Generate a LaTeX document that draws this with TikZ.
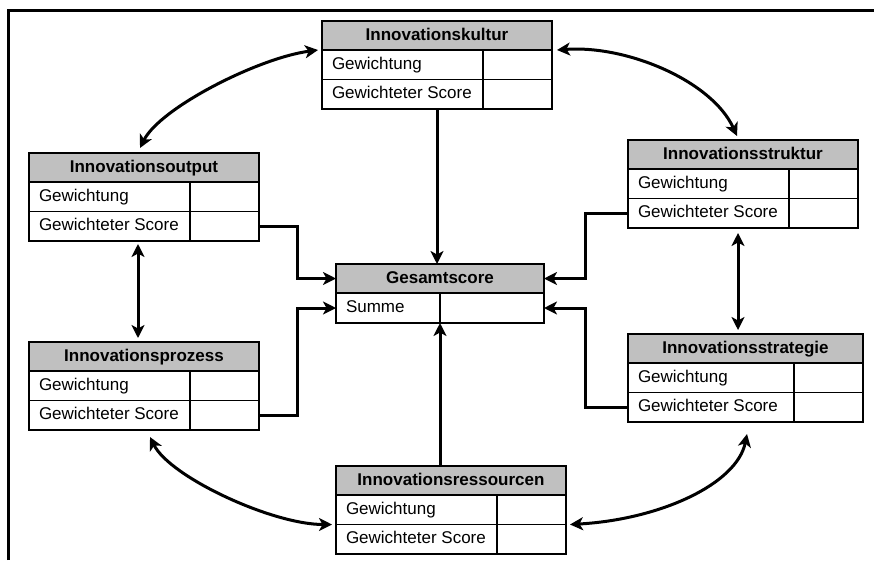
\documentclass[tikz,border=0pt]{standalone}
\usepackage{fontspec}
\setmainfont{Liberation Sans}
\usetikzlibrary{arrows.meta,fit}
\definecolor{hdrgray}{HTML}{C0C0C0}

\tikzset{
  cellbase/.style={draw=black, line width=1.4pt, inner ysep=0pt, outer sep=0pt,
    text height=12.5pt, text depth=3.5pt, font=\fontsize{17}{20}\selectfont},
  hdrcell/.style={cellbase, fill=hdrgray, minimum height=29, inner xsep=0pt,
    font=\fontsize{17}{20}\selectfont\bfseries},
  labcell/.style={cellbase, fill=white, minimum height=29.5, inner xsep=10pt},
  valcell/.style={cellbase, fill=white, minimum height=29.5, inner xsep=0pt},
  conn/.style={line width=3pt},
  >={Stealth[length=13pt,width=13pt,inset=3.5pt]},
}

% score table: name, left, top, total width, label column width, title
\newcommand\scorebox[6]{%
  \pgfmathsetlengthmacro\sbtw{#5-20}%
  \pgfmathsetlengthmacro\sbvw{#4-#5}%
  \node[hdrcell, minimum width=#4, anchor=north west] (#1-h) at (#2,#3) {#6};
  \node[labcell, anchor=north west] (#1-g) at (#1-h.south west)
    {\makebox[\sbtw][l]{Gewichtung}};
  \node[valcell, minimum width=\sbvw, anchor=north west] (#1-gv) at (#1-g.north east) {};
  \node[labcell, anchor=north west] (#1-s) at (#1-g.south west)
    {\makebox[\sbtw][l]{Gewichteter Score}};
  \node[valcell, minimum width=\sbvw, anchor=north west] (#1-sv) at (#1-s.north east) {};
  \node[fit=(#1-h)(#1-sv), inner sep=0pt, outer sep=0pt] (#1) {};
}

\begin{document}
\begin{tikzpicture}[x=1pt,y=-1pt]
  \fill[white] (0,0) rectangle (874,560);
  \useasboundingbox (0,0) rectangle (874,560);

  % outer frame
  \draw[line width=3pt] (8,560) -- (8,10) -- (874,10);

  % tables
  \scorebox{kultur}{322}{21}{230}{161}{Innovationskultur}
  \scorebox{output}{29}{153}{230}{161}{Innovationsoutput}
  \scorebox{struktur}{628}{140}{230}{161}{Innovationsstruktur}
  \scorebox{prozess}{29}{342}{230}{161}{Innovationsprozess}
  \scorebox{strategie}{628}{334}{235}{166}{Innovationsstrategie}
  \scorebox{ressourcen}{336}{466}{230}{161}{Innovationsressourcen}

  % total score
  \node[hdrcell, minimum width=208, anchor=north west] (gesamt-h) at (336,264) {Gesamtscore};
  \node[labcell, minimum height=30, anchor=north west] (gesamt-s) at (gesamt-h.south west)
    {\makebox[84pt][l]{Summe}};
  \node[valcell, minimum height=30, minimum width=104, anchor=north west] (gesamt-sv)
    at (gesamt-s.north east) {};

  % flows into the total score
  \draw[conn,->] (kultur.south) -- (kultur.south |- gesamt-h.north);
  \draw[conn,->] (gesamt-s.south east |- ressourcen.north) -- (gesamt-s.south east);
  \draw[conn,->] (output-sv.east) -- ++(38,0) |- (gesamt-h.west);
  \draw[conn,->] (prozess-sv.east) -- ++(38,0) |- (gesamt-s.west);
  \draw[conn,->] (struktur-s.west) -- ++(-43,0) |- (gesamt-h.east);
  \draw[conn,->] (strategie-s.west) -- ++(-43,0) |- (gesamt-sv.east);

  % mutual influences
  \draw[conn,<->] ([shift={(-6,3)}]output.south) -- ([shift={(-6,-4)}]prozess.north);
  \draw[conn,<->] ([shift={(-5,5)}]struktur.south) -- ([shift={(-7.5,-4)}]strategie.north);
  \draw[conn,<->] ([xshift=-4]kultur-g.north west)
    .. controls +(-60,8) and +(20,-40) .. ([shift={(-4,-5)}]output.north);
  \draw[conn,<->] ([xshift=5]kultur-gv.north east)
    .. controls +(70,-5) and +(-25,-55) .. ([shift={(-6,-4)}]struktur.north);
  \draw[conn,<->] ([shift={(6,7)}]prozess.south)
    .. controls +(20,40) and +(-60,0) .. ([xshift=-4]ressourcen-s.north west);
  \draw[conn,<->] ([shift={(1.5,12)}]strategie.south)
    .. controls +(-10,50) and +(90,-5) .. ([xshift=4]ressourcen-sv.north east);
\end{tikzpicture}
\end{document}
